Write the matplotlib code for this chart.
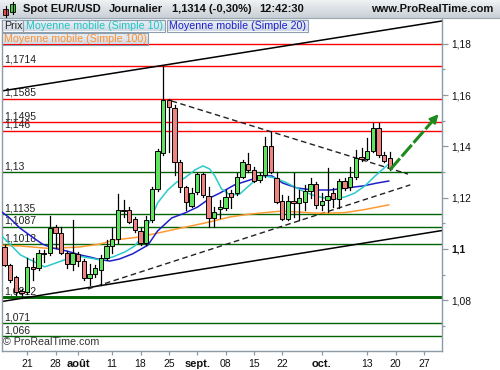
import matplotlib
matplotlib.use('Agg')
import matplotlib.pyplot as plt
from matplotlib.patches import Rectangle
from matplotlib.colors import LinearSegmentedColormap
import numpy as np
import pandas as pd

plt.rcParams['font.family'] = ['Liberation Sans', 'DejaVu Sans']

# daily EUR/USD candles, 15 Jul 2015 -> 19 Oct 2015
opens = [1.1009, 1.0938, 1.0890, 1.0836, 1.0832, 1.0931, 1.0925, 1.0983, 1.0983, 1.1085,
         1.1064, 1.0984, 1.0942, 1.0980, 1.0955, 1.0886, 1.0903, 1.0918, 1.0966, 1.1012,
         1.1038, 1.1152, 1.1152, 1.1116, 1.1071, 1.1022, 1.1113, 1.1233, 1.1373, 1.1581,
         1.1551, 1.1338, 1.1241, 1.1169, 1.1221, 1.1291, 1.1208, 1.1120, 1.1156, 1.1159,
         1.1217, 1.1217, 1.1280, 1.1331, 1.1308, 1.1269, 1.1288, 1.1402, 1.1276, 1.1187,
         1.1116, 1.1188, 1.1178, 1.1184, 1.1226, 1.1253, 1.1172, 1.1191, 1.1217, 1.1194,
         1.1265, 1.1241, 1.1280, 1.1358, 1.1350, 1.1382, 1.1471, 1.1366, 1.1354]
highs = [1.1016, 1.0942, 1.0895, 1.0845, 1.0966, 1.0965, 1.0996, 1.0998, 1.1129, 1.1094,
         1.1087, 1.0992, 1.1113, 1.0990, 1.0962, 1.0940, 1.0938, 1.0977, 1.1035, 1.1081,
         1.1214, 1.1191, 1.1165, 1.1126, 1.1081, 1.1129, 1.1243, 1.1389, 1.1714, 1.1585,
         1.1561, 1.1347, 1.1246, 1.1237, 1.1297, 1.1295, 1.1243, 1.1165, 1.1191, 1.1230,
         1.1230, 1.1295, 1.1347, 1.1373, 1.1321, 1.1295, 1.1438, 1.1457, 1.1301, 1.1211,
         1.1207, 1.1295, 1.1230, 1.1250, 1.1276, 1.1262, 1.1218, 1.1315, 1.1237, 1.1272,
         1.1276, 1.1321, 1.1386, 1.1393, 1.1432, 1.1490, 1.1490, 1.1379, 1.1379]
lows = [1.0934, 1.0871, 1.0821, 1.0808, 1.0826, 1.0879, 1.0920, 1.0950, 1.0977, 1.1004,
        1.0980, 1.0925, 1.0918, 1.0935, 1.0880, 1.0858, 1.0890, 1.0860, 1.0958, 1.0984,
        1.1023, 1.1126, 1.1101, 1.1067, 1.1016, 1.1016, 1.1105, 1.1227, 1.1366, 1.1379,
        1.1288, 1.1223, 1.1152, 1.1165, 1.1215, 1.1204, 1.1087, 1.1087, 1.1120, 1.1152,
        1.1160, 1.1211, 1.1276, 1.1300, 1.1262, 1.1262, 1.1282, 1.1295, 1.1180, 1.1113,
        1.1113, 1.1126, 1.1113, 1.1152, 1.1198, 1.1159, 1.1152, 1.1145, 1.1165, 1.1159,
        1.1230, 1.1230, 1.1273, 1.1345, 1.1347, 1.1379, 1.1360, 1.1340, 1.1308]
closes = [1.0938, 1.0879, 1.0834, 1.0828, 1.0931, 1.0921, 1.0983, 1.0981, 1.1081, 1.1061,
          1.0986, 1.0940, 1.0985, 1.0955, 1.0886, 1.0903, 1.0925, 1.0966, 1.1012, 1.1038,
          1.1152, 1.1150, 1.1106, 1.1074, 1.1025, 1.1113, 1.1233, 1.1382, 1.1581, 1.1555,
          1.1340, 1.1241, 1.1184, 1.1219, 1.1291, 1.1211, 1.1120, 1.1145, 1.1163, 1.1204,
          1.1202, 1.1280, 1.1338, 1.1308, 1.1266, 1.1288, 1.1402, 1.1301, 1.1184, 1.1116,
          1.1188, 1.1178, 1.1198, 1.1226, 1.1253, 1.1172, 1.1188, 1.1208, 1.1194, 1.1265,
          1.1237, 1.1280, 1.1354, 1.1350, 1.1382, 1.1471, 1.1366, 1.1344, 1.1314]

# moving averages (position in candles, value)
ma10_pos = [-0.5, 1.1, 2.8, 5.0, 7.1, 9.0, 11.0, 12.9, 15.0, 17.0, 19.1, 21.2, 23.0, 24.2,
            25.6, 27.0, 28.8, 30.4, 31.8, 33.6, 35.0, 36.2, 37.1, 38.3, 39.8, 41.5, 42.9,
            44.5, 45.9, 47.7, 49.5, 51.2, 53.0, 54.8, 56.5, 58.3, 60.1, 61.8, 63.6, 65.4,
            66.8, 67.8]
ma10_val = [1.1051, 1.1016, 1.0977, 1.0953, 1.0930, 1.0945, 1.0961, 1.0973, 1.0965, 1.0957,
            1.0969, 1.0988, 1.1012, 1.1047, 1.1105, 1.1179, 1.1230, 1.1261, 1.1277, 1.1308,
            1.1324, 1.1312, 1.1285, 1.1234, 1.1211, 1.1214, 1.1242, 1.1273, 1.1285, 1.1277,
            1.1261, 1.1242, 1.1222, 1.1207, 1.1199, 1.1195, 1.1203, 1.1218, 1.1246, 1.1285,
            1.1312, 1.1331]
ma20_pos = [-0.5, 0.9, 2.7, 5.0, 6.7, 8.5, 11.0, 13.3, 15.0, 16.8, 18.6, 20.3, 22.6, 25.3,
            27.0, 29.5, 31.8, 34.1, 36.6, 38.0, 40.6, 43.3, 45.6, 47.2, 49.1, 51.6, 54.4,
            57.4, 60.4, 63.3, 65.7, 67.8]
ma20_val = [1.1145, 1.1121, 1.1082, 1.1045, 1.1019, 1.1004, 1.0992, 1.0977, 1.0969, 1.0959,
            1.0953, 1.0961, 1.0981, 1.1015, 1.1070, 1.1121, 1.1140, 1.1164, 1.1203, 1.1218,
            1.1250, 1.1269, 1.1285, 1.1285, 1.1257, 1.1238, 1.1230, 1.1230, 1.1238, 1.1246,
            1.1257, 1.1265]
ma100_pos = [-0.5, 2.7, 8.0, 13.3, 16.8, 19.4, 23.9, 29.5, 35.3, 39.8, 43.3, 48.9, 51.8,
             54.8, 57.4, 60.1, 63.6, 67.8]
ma100_val = [1.1014, 1.1012, 1.1002, 1.1008, 1.1019, 1.1035, 1.1047, 1.1074, 1.1101, 1.1125,
             1.1136, 1.1148, 1.1144, 1.1140, 1.1140, 1.1142, 1.1154, 1.1172]

red_levels = [1.18, 1.1714, 1.1585, 1.1495, 1.146]
red_labels = ['', '1,1714', '1,1585', '1,1495', '1,146']
green_levels = [1.13, 1.1135, 1.1087, 1.1018, 1.0812, 1.071, 1.066]
green_labels = ['1,13', '1,1135', '1,1087', '1,1018', '1,0812', '1,071', '1,066']
thick_level = 1.0812

# trend lines: (start pos, start value, end pos, end value)
solid_lines = [(-0.53, 1.1616, 77.2, 1.1889), (-0.53, 1.0795, 77.2, 1.1072)]
dashed_lines = [(14.7, 1.0844, 71.6, 1.1250), (29.5, 1.1577, 71.2, 1.1292)]
arrow_line = (68.0, 1.1308, 76.9, 1.1534)

tick_dates = ['2015-07-21', '2015-07-28', '2015-08-03', '2015-08-11', '2015-08-18',
              '2015-08-25', '2015-09-01', '2015-09-08', '2015-09-15', '2015-09-22',
              '2015-10-01', '2015-10-13', '2015-10-20', '2015-10-27']
tick_labels = ['21', '28', 'août', '11', '18', '25', 'sept.', '08', '15', '22',
               'oct.', '13', '20', '27']
month_labels = ['août', 'sept.', 'oct.']

header = ['Spot EUR/USD', 'Journalier', '1,1314 (-0,30%)', '12:42:30']

dates = pd.bdate_range('2015-07-15', periods=80)
tick_pos = [dates.get_loc(pd.Timestamp(d)) for d in tick_dates]

GRAY = '#8C9AA6'
UP = '#5FE35F'
DOWN = '#EE8482'
ARROW = '#1E8A1E'

fig = plt.figure(figsize=(5, 3.7), dpi=100)
ax = fig.add_axes([1.5 / 500, 19 / 370, 440.5 / 500, 333 / 370])
ax.set_xlim(-0.53, 77.2)
ax.set_ylim(1.06023, 1.19006)

for v in red_levels:
    ax.axhline(v, color='#FF0000', lw=1.0, zorder=1)
for v in green_levels:
    ax.axhline(v, color='#006400', lw=2.1 if v == thick_level else 1.0, zorder=1)
for v, lab in list(zip(red_levels, red_labels)) + list(zip(green_levels, green_labels)):
    if lab:
        ax.text(0.006, v + 0.0004, lab, transform=ax.get_yaxis_transform(),
                ha='left', va='bottom', fontsize=7.5, color='#222222', zorder=1)

for x0, y0, x1, y1 in solid_lines:
    ax.plot([x0, x1], [y0, y1], color='black', lw=1.1, zorder=2)
for x0, y0, x1, y1 in dashed_lines:
    ax.plot([x0, x1], [y0, y1], color='#222222', lw=1.0, dashes=(4, 2.5), zorder=2)

ax.plot(ma100_pos, ma100_val, color='#FF9A33', lw=1.1, zorder=3)
ax.plot(ma20_pos, ma20_val, color='#1F1FCC', lw=1.1, zorder=3)
ax.plot(ma10_pos, ma10_val, color='#2BCACA', lw=1.1, zorder=3)

w = 0.72
for i, (o, h, l, c) in enumerate(zip(opens, highs, lows, closes)):
    ax.plot([i, i], [l, h], color='black', lw=0.9, zorder=4)
    body = max(abs(c - o), 0.00015)
    ax.add_patch(Rectangle((i - w / 2, min(o, c)), w, body,
                           facecolor=UP if c >= o else DOWN,
                           edgecolor='black', lw=0.7, zorder=5))

x0, y0, x1, y1 = arrow_line
ax.plot([x0, x1 - 0.9], [y0, y1 - 0.0023], color=ARROW, lw=2.2,
        dashes=(5, 0.9), zorder=6)
ax.annotate('', xy=(x1, y1), xytext=(x1 - 1.2, y1 - 0.0031),
            arrowprops=dict(arrowstyle='-|>', color=ARROW, lw=1.5,
                            mutation_scale=13), zorder=6)

ax.spines['top'].set_visible(False)
for s in ['left', 'right', 'bottom']:
    ax.spines[s].set_color(GRAY)
    ax.spines[s].set_linewidth(1.0)

ax.yaxis.tick_right()
ax.set_yticks([1.08, 1.10, 1.12, 1.14, 1.16, 1.18])
ax.set_yticklabels(['1,08', '1,1', '1,12', '1,14', '1,16', '1,18'])
ax.set_yticks([1.07, 1.09, 1.11, 1.13, 1.15, 1.17], minor=True)
ax.tick_params(axis='y', which='major', length=4, width=0.9, color=GRAY,
               labelsize=7.4, pad=2.5, labelcolor='#111111')
ax.tick_params(axis='y', which='minor', length=2.5, width=0.9, color=GRAY)
for t in ax.get_yticklabels():
    if t.get_text() == '1,1':
        t.set_fontweight('bold')

ax.set_xticks(tick_pos)
ax.set_xticklabels(tick_labels)
ax.tick_params(axis='x', length=3, width=0.9, color=GRAY, labelsize=7.5, pad=2.5,
               labelcolor='#111111')
for t in ax.get_xticklabels():
    if t.get_text() in month_labels:
        t.set_fontweight('bold')
        t.set_fontsize(8)

ax.text(0.004, 0.012, '© ProRealTime.com', transform=ax.transAxes, fontsize=7.7,
        color='#333333', ha='left', va='bottom', zorder=7)

# header bar and legend boxes, drawn in pixel coordinates on top
ov = fig.add_axes([0, 0, 1, 1], zorder=10)
ov.patch.set_alpha(0)
ov.axis('off')

grad = np.linspace(0, 1, 32).reshape(-1, 1)
head_cmap = LinearSegmentedColormap.from_list('head', ['#F0F2F4', '#C8CFD6'])
box_cmap = LinearSegmentedColormap.from_list('box', ['#EEF3F8', '#D0DAE4'])

ov.imshow(grad, extent=(0, 500, 18, 0), cmap=head_cmap, aspect='auto', origin='upper')
ov.plot([0, 500], [18, 18], color='#9AA6B0', lw=0.8)

boxes = [(1.5, 19.5, 21, 12, 'Prix', '#222222'),
         (23, 19.5, 142, 12, 'Moyenne mobile (Simple 10)', '#22C4C4'),
         (166.5, 19.5, 141, 12, 'Moyenne mobile (Simple 20)', '#1F1FCC'),
         (1.5, 32.5, 146.5, 12, 'Moyenne mobile (Simple 100)', '#FF9030')]
for bx, by, bw, bh, txt, col in boxes:
    ov.imshow(grad, extent=(bx, bx + bw, by + bh, by), cmap=box_cmap, aspect='auto',
              origin='upper')
    ov.add_patch(Rectangle((bx, by), bw, bh, fill=False, edgecolor='#8F9EAC', lw=0.8))
    ov.text(bx + 2.5, by + bh / 2 + 0.5, txt, fontsize=7.7, color=col, ha='left',
            va='center')

# small candle icon
ov.plot([5.5, 5.5], [6, 17], color='black', lw=0.8)
ov.add_patch(Rectangle((3, 8.5), 5, 6.5, facecolor='#E85050', edgecolor='black', lw=0.6))
ov.plot([12.5, 12.5], [1.5, 14], color='black', lw=0.8)
ov.add_patch(Rectangle((10, 3.5), 5, 8.5, facecolor='#40D040', edgecolor='black', lw=0.6))

hkw = dict(fontsize=8, fontweight='bold', color='#111111', va='center', ha='left')
for x, txt in zip([23, 109, 172, 259], header):
    ov.text(x, 9.5, txt, **hkw)
ov.text(493, 9.5, 'www.ProRealTime.com', fontsize=8, fontweight='bold', color='#111111',
        va='center', ha='right')

ov.set_xlim(0, 500)
ov.set_ylim(370, 0)

fig.savefig('out.png', dpi=100)
